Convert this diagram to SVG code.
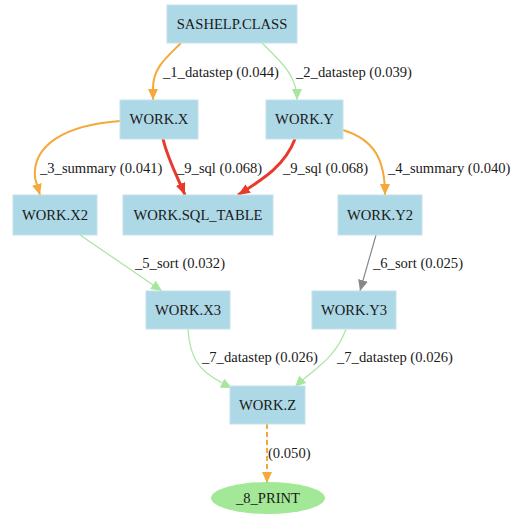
<svg xmlns="http://www.w3.org/2000/svg" width="515" height="516" viewBox="0 0 515 516">
<style>
text{font-family:"Liberation Serif","Times New Roman",serif;font-size:14.6px;fill:#1a1a1a}
.n rect{fill:#add8e6;stroke:#c4e2ec;stroke-width:1}
.n text{text-anchor:middle}
.e path{fill:none}
.o{stroke:#f4a93a;stroke-width:2}
.g{stroke:#a8e6a0;stroke-width:1.2}
.r{stroke:#e8392a;stroke-width:3}
.k{stroke:#888;stroke-width:1.2}
</style>
<defs>
<marker id="ao" markerUnits="userSpaceOnUse" markerWidth="11" markerHeight="10" refX="11" refY="5" orient="auto"><path d="M0,0 L11,5 L0,10 z" fill="#f4a93a"/></marker>
<marker id="ag" markerUnits="userSpaceOnUse" markerWidth="11" markerHeight="10" refX="11" refY="5" orient="auto"><path d="M0,0 L11,5 L0,10 z" fill="#a8e6a0"/></marker>
<marker id="ar" markerUnits="userSpaceOnUse" markerWidth="12" markerHeight="10" refX="12" refY="5" orient="auto"><path d="M0,0 L12,5 L0,10 z" fill="#e8392a"/></marker>
<marker id="ak" markerUnits="userSpaceOnUse" markerWidth="11" markerHeight="10" refX="11" refY="5" orient="auto"><path d="M0,0 L11,5 L0,10 z" fill="#888"/></marker>
</defs>
<g id="edges" class="e">
<path class="o" d="M181,43 C166,58 153,68 153,88 L153,100" marker-end="url(#ao)"/>
<text x="163" y="77">_1_datastep (0.044)</text>
<path class="g" d="M262,43 C281,62 297,75 297,100" marker-end="url(#ag)"/>
<text x="296" y="77">_2_datastep (0.039)</text>
<path class="o" d="M120,121 C65,125 32,145 35,178 L40,195" marker-end="url(#ao)"/>
<text x="40" y="173">_3_summary (0.041)</text>
<path class="r" d="M163,139 C168,160 178,178 185,195" marker-end="url(#ar)"/>
<text x="177" y="173">_9_sql (0.068)</text>
<path class="r" d="M295,139 C285,165 265,178 238,195" marker-end="url(#ar)"/>
<text x="283" y="173">_9_sql (0.068)</text>
<path class="o" d="M343,130 C375,140 385,160 385,195" marker-end="url(#ao)"/>
<text x="388" y="173">_4_summary (0.040)</text>
<path class="g" d="M80,235 L162,291" marker-end="url(#ag)"/>
<text x="135" y="268">_5_sort (0.032)</text>
<path class="k" d="M376,235 L360,291" marker-end="url(#ak)"/>
<text x="373" y="268">_6_sort (0.025)</text>
<path class="g" d="M188,329 C190,365 205,375 232,388" marker-end="url(#ag)"/>
<text x="202" y="362">_7_datastep (0.026)</text>
<path class="g" d="M346,329 C335,360 312,370 295,387" marker-end="url(#ag)"/>
<text x="337" y="362">_7_datastep (0.026)</text>
<path class="o" d="M267,424 L267,483" stroke-dasharray="5,3" marker-end="url(#ao)"/>
<text x="268" y="458">(0.050)</text>
</g>
<g id="SASHELP_CLASS" class="n"><rect x="167" y="5" width="130" height="38"/><text x="232" y="29">SASHELP.CLASS</text></g>
<g id="WORK_X" class="n"><rect x="120" y="100" width="78" height="39"/><text x="159" y="124">WORK.X</text></g>
<g id="WORK_Y" class="n"><rect x="266" y="100" width="77" height="39"/><text x="304.5" y="124">WORK.Y</text></g>
<g id="WORK_X2" class="n"><rect x="13" y="195" width="84" height="40"/><text x="55" y="220">WORK.X2</text></g>
<g id="WORK_SQL_TABLE" class="n"><rect x="123" y="195" width="150" height="40"/><text x="198" y="220">WORK.SQL_TABLE</text></g>
<g id="WORK_Y2" class="n"><rect x="338" y="195" width="84" height="40"/><text x="380" y="220">WORK.Y2</text></g>
<g id="WORK_X3" class="n"><rect x="146" y="291" width="84" height="38"/><text x="188" y="315">WORK.X3</text></g>
<g id="WORK_Y3" class="n"><rect x="312" y="291" width="84" height="38"/><text x="354" y="315">WORK.Y3</text></g>
<g id="WORK_Z" class="n"><rect x="230" y="386" width="75" height="38"/><text x="267.5" y="410">WORK.Z</text></g>
<g id="PRINT_8"><ellipse cx="268" cy="498" rx="57" ry="16" fill="#a3e896"/><text x="268" y="503" text-anchor="middle">_8_PRINT</text></g>
</svg>
